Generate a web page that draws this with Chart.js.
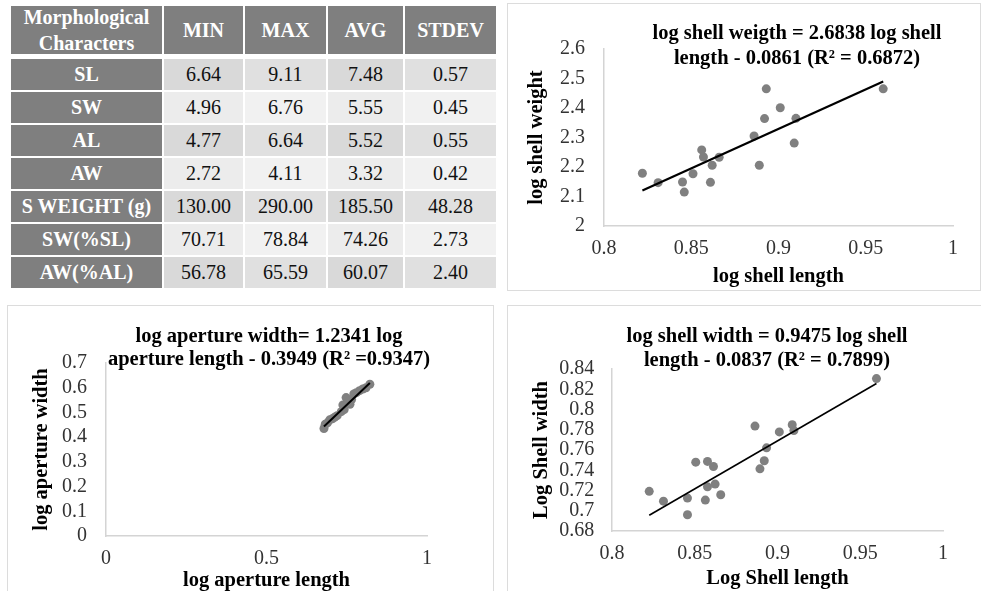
<!DOCTYPE html>
<html>
<head>
<meta charset="utf-8">
<script src="https://cdn.jsdelivr.net/npm/chart.js@4.4.1/dist/chart.umd.min.js"></script>
<style>
  html, body { margin: 0; padding: 0; background: #fff; }
  body { width: 981px; height: 591px; position: relative; overflow: hidden;
         font-family: "Liberation Serif", "Times New Roman", serif; }
  .tbl { position: absolute; left: 11px; top: 6px; display: grid;
         grid-template-columns: 151px 79px 81px 75px 91px;
         grid-template-rows: 51px repeat(7, 31px);
         column-gap: 2px; row-gap: 2px; }
  .tbl div { display: flex; align-items: center; justify-content: center;
             font-size: 20px; color: #111; text-align: center; }
  .tbl .hd { background: #7f7f7f; color: #fff; font-weight: bold; line-height: 26px; margin-bottom: 3px; }
  .tbl .rh { background: #7f7f7f; color: #fff; font-weight: bold; }
  .tbl .d0 { background: #d9d9d9; }
  .tbl .d1 { background: #e0e0e0; }
  .tbl .l0 { background: #ececec; }
  .tbl .l1 { background: #f1f1f1; }
  .panel { position: absolute; border: 1px solid #dcdcdc; box-sizing: border-box; }
  .panel div { position: absolute; left: 0; top: 0; right: 0; bottom: 0; }
</style>
</head>
<body>
<div class="tbl" id="tbl"></div>

<div class="panel" style="left:507px; top:3px; width:474px; height:288px;"><div><canvas id="weightChart"></canvas></div></div>
<div class="panel" style="left:7px; top:305px; width:487px; height:290px;"><div><canvas id="apertureChart"></canvas></div></div>
<div class="panel" style="left:507px; top:305px; width:475px; height:290px;"><div><canvas id="widthChart"></canvas></div></div>

<script>
// table
const tableHeader = ["Morphological<br>Characters", "MIN", "MAX", "AVG", "STDEV"];
const rowNames = ["SL", "SW", "AL", "AW", "S WEIGHT (g)", "SW(%SL)", "AW(%AL)"];
const minVals = ["6.64", "4.96", "4.77", "2.72", "130.00", "70.71", "56.78"];
const maxVals = ["9.11", "6.76", "6.64", "4.11", "290.00", "78.84", "65.59"];
const avgVals = ["7.48", "5.55", "5.52", "3.32", "185.50", "74.26", "60.07"];
const stdVals = ["0.57", "0.45", "0.55", "0.42", "48.28", "2.73", "2.40"];

// log shell length vs log shell weight
const weightLength = [0.822, 0.831, 0.845, 0.846, 0.851, 0.856, 0.857, 0.862, 0.861, 0.866, 0.886, 0.889, 0.892, 0.893, 0.901, 0.910, 0.909, 0.960];
const weightValue = [2.179, 2.147, 2.149, 2.115, 2.177, 2.258, 2.234, 2.206, 2.148, 2.233, 2.305, 2.206, 2.364, 2.465, 2.401, 2.365, 2.281, 2.465];
const weightFitX = [0.822, 0.960];
const weightFitY = [2.120, 2.490];
const weightXTicks = ["0.8", "0.85", "0.9", "0.95", "1"];
const weightYTicks = ["2", "2.1", "2.2", "2.3", "2.4", "2.5", "2.6"];

// log aperture length vs log aperture width
const apertureLength = [0.679, 0.683, 0.690, 0.697, 0.705, 0.712, 0.720, 0.733, 0.738, 0.742, 0.748, 0.752, 0.760, 0.765, 0.772, 0.780, 0.790, 0.800, 0.810, 0.822];
const apertureWidth = [0.435, 0.452, 0.458, 0.470, 0.474, 0.480, 0.487, 0.503, 0.530, 0.512, 0.560, 0.540, 0.533, 0.552, 0.575, 0.580, 0.588, 0.595, 0.600, 0.614];
const apertureFitX = [0.679, 0.822];
const apertureFitY = [0.443, 0.619];
const apertureXTicks = ["0", "0.5", "1"];
const apertureYTicks = ["0", "0.1", "0.2", "0.3", "0.4", "0.5", "0.6", "0.7"];

// log shell length vs log shell width
const widthLength = [0.8225, 0.8311, 0.8456, 0.8456, 0.8506, 0.8564, 0.8577, 0.8577, 0.8613, 0.8623, 0.8657, 0.8864, 0.8894, 0.8920, 0.8934, 0.9011, 0.9089, 0.9099, 0.9598];
const widthValue = [0.7192, 0.7095, 0.7125, 0.6961, 0.7480, 0.7105, 0.7487, 0.7236, 0.7437, 0.7263, 0.7158, 0.7836, 0.7414, 0.7494, 0.7621, 0.7779, 0.7849, 0.7792, 0.8305];
const widthFitX = [0.8225, 0.9598];
const widthFitY = [0.6956, 0.8257];
const widthXTicks = ["0.8", "0.85", "0.9", "0.95", "1"];
const widthYTicks = ["0.68", "0.7", "0.72", "0.74", "0.76", "0.78", "0.8", "0.82", "0.84"];

// build table
const tbl = document.getElementById("tbl");
let html = "";
tableHeader.forEach(h => html += '<div class="hd">' + h + '</div>');
rowNames.forEach((name, r) => {
    const band = r % 2 === 0 ? "d" : "l";
    html += '<div class="rh">' + name + '</div>';
    [minVals, maxVals, avgVals, stdVals].forEach((col, c) => {
        html += '<div class="' + band + (c % 2) + '">' + col[r] + '</div>';
    });
});
tbl.innerHTML = html;

const FONT = '"Liberation Serif", "Times New Roman", serif';

const eqTitle = {
    id: "eqTitle",
    afterDraw(chart, args, o) {
        const ctx = chart.ctx;
        ctx.save();
        ctx.font = "bold 20.5px " + FONT;
        ctx.fillStyle = "#000";
        ctx.textAlign = "center";
        ctx.textBaseline = "middle";
        o.lines.forEach((t, i) => ctx.fillText(t, o.x, o.y + i * o.lh));
        ctx.restore();
    }
};

function axis(labels, title, size, tickPad, titlePad, horizontal) {
    const vals = labels.map(Number);
    return {
        type: "linear",
        min: vals[0],
        max: vals[vals.length - 1],
        grid: {display: false, drawTicks: false},
        border: {display: true, color: "#d4d4d4", width: 1.5},
        afterBuildTicks: s => { s.ticks = vals.map(v => ({value: v})); },
        afterFit: s => { if (horizontal) s.height = size; else s.width = size; },
        ticks: {
            autoSkip: false,
            maxRotation: 0,
            padding: tickPad,
            color: "#333",
            font: {family: FONT, size: 20},
            callback: (v, i) => labels[i]
        },
        title: {
            display: true,
            text: title,
            color: "#000",
            font: {family: FONT, size: 20.5, weight: "bold"},
            padding: horizontal ? {top: 0, bottom: titlePad} : {top: titlePad, bottom: 0}
        }
    };
}

function makeChart(id, xs, ys, fx, fy, lineWidth, cfg) {
    const ctx = document.getElementById(id);
    return new Chart(ctx, {
        type: "scatter",
        data: {
            datasets: [{
                type: "line",
                data: fx.map((x, i) => ({x: x, y: fy[i]})),
                borderColor: "#000",
                borderWidth: lineWidth,
                pointRadius: 0,
                fill: false
            }, {
                data: xs.map((x, i) => ({x: x, y: ys[i]})),
                backgroundColor: "#808080",
                borderWidth: 0,
                pointRadius: 4.5
            }]
        },
        options: {
            responsive: true,
            maintainAspectRatio: false,
            animation: false,
            layout: {padding: cfg.padding},
            plugins: {
                legend: {display: false},
                tooltip: {enabled: false},
                eqTitle: cfg.title
            },
            scales: {
                x: axis(cfg.xTicks, cfg.xTitle, cfg.xSize, 11, cfg.xTitlePad, true),
                y: axis(cfg.yTicks, cfg.yTitle, cfg.ySize, cfg.yTickPad, cfg.yTitlePad, false)
            }
        },
        plugins: [eqTitle]
    });
}

makeChart("weightChart", weightLength, weightValue, weightFitX, weightFitY, 2.2, {
    padding: {left: 0, right: 27, top: 45, bottom: 0},
    xTicks: weightXTicks, yTicks: weightYTicks,
    xTitle: "log shell length", yTitle: "log shell weight",
    xSize: 64, ySize: 96, yTickPad: 19, xTitlePad: 0.7, yTitlePad: 16.7,
    title: {lines: ["log shell weigth = 2.6838 log shell", "length - 0.0861 (R\u00b2 = 0.6872)"], x: 289, y: 30, lh: 24.5}
});

makeChart("apertureChart", apertureLength, apertureWidth, apertureFitX, apertureFitY, 2, {
    padding: {left: 0, right: 66, top: 57, bottom: 0},
    xTicks: apertureXTicks, yTicks: apertureYTicks,
    xTitle: "log aperture length", yTitle: "log aperture width",
    xSize: 58, ySize: 98, yTickPad: 19, xTitlePad: 1, yTitlePad: 21.4,
    title: {lines: ["log aperture width= 1.2341 log", "aperture length - 0.3949 (R\u00b2 =0.9347)"], x: 261, y: 31, lh: 23}
});

makeChart("widthChart", widthLength, widthValue, widthFitX, widthFitY, 1.6, {
    padding: {left: 0, right: 38, top: 63, bottom: 0},
    xTicks: widthXTicks, yTicks: widthYTicks,
    xTitle: "Log Shell length", yTitle: "Log Shell width",
    xSize: 63, ySize: 104, yTickPad: 17.7, xTitlePad: 3.4, yTitlePad: 21.4,
    title: {lines: ["log shell width = 0.9475 log shell", "length - 0.0837 (R\u00b2 = 0.7899)"], x: 259, y: 31, lh: 24}
});
</script>
</body>
</html>
